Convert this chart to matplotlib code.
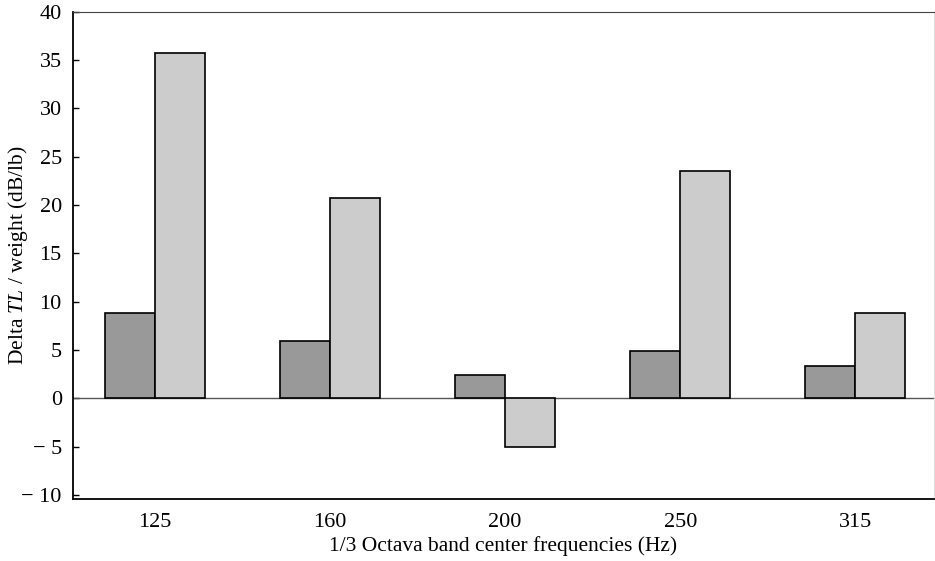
import matplotlib.pyplot as plt
import numpy as np

plt.rcParams['font.family'] = ['Liberation Serif', 'DejaVu Serif']
plt.rcParams['mathtext.fontset'] = 'custom'
plt.rcParams['mathtext.it'] = 'Liberation Serif:italic'
plt.rcParams['mathtext.rm'] = 'Liberation Serif'

freqs = ['125', '160', '200', '250', '315']
dark_vals = [8.8, 5.9, 2.4, 4.9, 3.3]
light_vals = [35.7, 20.7, -5.0, 23.5, 8.8]
y_ticks = [-10, -5, 0, 5, 10, 15, 20, 25, 30, 35, 40]
y_labels = ['\u2212 10', '\u2212 5', '0', '5', '10', '15', '20', '25', '30', '35', '40']

fig = plt.figure(figsize=(9.35, 5.61), dpi=100)
ax = fig.add_axes([0.078, 0.11, 0.921, 0.869])

x = np.arange(len(freqs))
w = 0.285
ax.bar(x - w / 2, dark_vals, w, color='#999999', edgecolor='black', linewidth=1.2, zorder=3)
ax.bar(x + w / 2, light_vals, w, color='#cccccc', edgecolor='black', linewidth=1.2, zorder=3)
ax.axhline(0, color='#555555', linewidth=1.0, zorder=2)

ax.set_xlim(-0.469, 4.45)
ax.set_ylim(-10.45, 40)
ax.set_xticks(x)
ax.set_xticklabels(freqs)
ax.set_yticks(y_ticks)
ax.set_yticklabels(y_labels)
ax.tick_params(axis='x', length=0, labelsize=16, pad=10)
ax.tick_params(axis='y', direction='in', length=4, width=1, labelsize=16, pad=8)

for s in ['left', 'bottom']:
    ax.spines[s].set_linewidth(1.3)
ax.spines['top'].set_color('#444444')
ax.spines['right'].set_color('#dddddd')

ax.set_xlabel('1/3 Octava band center frequencies (Hz)', fontsize=15.5, labelpad=3)
ax.set_ylabel('Delta $TL$ / weight (dB/lb)', fontsize=15.5)
ax.yaxis.set_label_coords(-0.050, 0.5)

fig.savefig('out.png', dpi=100)
